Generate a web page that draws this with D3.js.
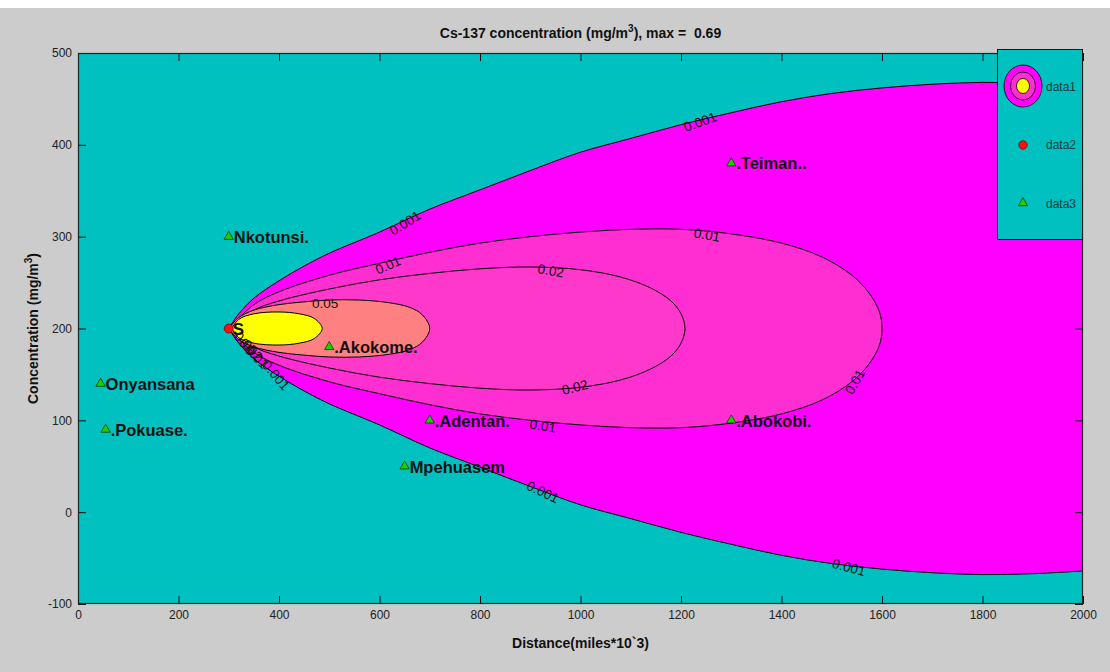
<!DOCTYPE html>
<html>
<head>
<meta charset="utf-8">
<script src="https://cdn.jsdelivr.net/npm/d3@7"></script>
<style>
  html, body { margin: 0; padding: 0; background: #cccccc; }
  svg { display: block; font-family: "Liberation Sans", Arial, sans-serif; }
  .keep-space { white-space: pre; }
</style>
</head>
<body>
<svg id="chart" width="1110" height="672"></svg>
<script>
// ---- axis ticks ----
const xTicks = [0, 200, 400, 600, 800, 1000, 1200, 1400, 1600, 1800, 2000];
const yTicks = [-100, 0, 100, 200, 300, 400, 500];

// ---- release point (plume centreline) ----
const sourceX = 300;
const sourceY = 200;

// ---- concentration contours: [distance, half-width of plume] ----
const levelNames = ["0.001", "0.01", "0.02", "0.05", "0.1"];
const levelColors = ["#ff00ff", "#ff2ed3", "#ff38cc", "#ff8080", "#ffff00"];
const halfWidth0001 = [[300, 0], [320, 16], [350, 33], [400, 52], [450, 68], [500, 82], [600, 105], [700, 130], [800, 151], [900, 172], [1000, 192], [1100, 207], [1200, 222], [1300, 235], [1400, 247], [1500, 256], [1600, 262], [1700, 266], [1800, 268], [1900, 267], [2000, 264]];
const halfWidth001 = [[300, 0], [350, 26], [400, 40], [500, 58], [600, 71], [700, 83], [800, 93], [900, 100], [1000, 105], [1100, 108], [1200, 108], [1300, 103], [1400, 93], [1480, 78], [1540, 58], [1575, 38], [1595, 18], [1600, 0]];
const halfWidth002 = [[300, 0], [350, 20], [400, 30], [500, 43], [600, 53], [700, 60], [800, 65], [900, 67], [1000, 64], [1080, 56], [1140, 44], [1180, 30], [1200, 16], [1208, 0]];
const halfWidth005 = [[300, 0], [320, 12], [350, 20], [400, 26], [450, 29], [500, 31], [560, 31], [620, 28], [660, 23], [685, 15], [700, 0]];
const halfWidth01 = [[306, 0], [320, 10], [350, 16], [400, 18], [440, 16], [470, 11], [486, 0]];

// ---- contour level labels: text, distance, y, angle ----
const contourLabelText = ["0.001", "0.01", "0.05", "0.02", "0.01", "0.001", "0.02", "0.01", "0.001", "0.01", "0.001", "0.001", "0.01", "0.02", "0.05"];
const contourLabelX = [651, 617, 492, 941, 1252, 1238, 989, 925, 925, 1546, 1534, 394, 356, 344, 334];
const contourLabelY = [315, 269, 227, 263, 302, 425, 136, 94, 22, 142, -60, 149, 169, 177, 184];
const contourLabelAngle = [-32, -24, 0, 10, 10, -20, -14, 9, 25, -60, 15, 50, 45, 45, 45];

// ---- receptor sites ----
const siteNames = ["Nkotunsi.", ".Teiman..", ".Akokome.", "Onyansana", ".Pokuase.", ".Adentan.", "Mpehuasem", ".Abokobi."];
const siteX = [300, 1300, 500, 45, 55, 700, 650, 1300];
const siteY = [300, 380, 180, 140, 90, 100, 50, 100];

// ---- legend ----
const legendLabels = ["data1", "data2", "data3"];

// =====================================================================
const svg = d3.select("#chart");
const W = 1110, H = 672;
const plot = { left: 78, right: 1083, top: 53, bottom: 604 };
const cyan = "#00c0c0";

svg.append("rect").attr("width", W).attr("height", H).attr("fill", "#cccccc");
svg.append("rect").attr("width", W).attr("height", 8).attr("fill", "#ffffff");

const x = d3.scaleLinear().domain([0, 2000]).range([plot.left, plot.right]);
const y = d3.scaleLinear().domain([-100, 500]).range([plot.bottom, plot.top]);

svg.append("defs").append("clipPath").attr("id", "plotClip")
  .append("rect")
  .attr("x", plot.left).attr("y", plot.top)
  .attr("width", plot.right - plot.left).attr("height", plot.bottom - plot.top);

// background (below lowest level)
svg.append("rect")
  .attr("x", plot.left).attr("y", plot.top)
  .attr("width", plot.right - plot.left).attr("height", plot.bottom - plot.top)
  .attr("fill", cyan);

const field = svg.append("g").attr("clip-path", "url(#plotClip)");
const line = d3.line().x(d => x(d[0])).y(d => y(d[1])).curve(d3.curveCatmullRom.alpha(0.5));

// outermost level is open at the right border
{
  const upper = halfWidth0001.map(([d, w]) => [d, sourceY + w]);
  const lower = halfWidth0001.map(([d, w]) => [d, sourceY - w]).reverse();
  const up = line(upper);
  const lo = line(lower);
  field.append("path")
    .attr("d", up + "L" + lo.slice(1) + "Z")
    .attr("fill", levelColors[0]);
  field.append("path").attr("d", up).attr("fill", "none").attr("stroke", "#000").attr("stroke-width", 1);
  field.append("path").attr("d", lo).attr("fill", "none").attr("stroke", "#000").attr("stroke-width", 1);
}

// closed inner levels
[halfWidth001, halfWidth002, halfWidth005, halfWidth01].forEach((prof, i) => {
  const upper = prof.map(([d, w]) => [d, sourceY + w]);
  const lower = prof.slice(0, -1).map(([d, w]) => [d, sourceY - w]).reverse();
  field.append("path")
    .attr("d", line(upper.concat(lower)) + "Z")
    .attr("fill", levelColors[i + 1])
    .attr("stroke", "#000")
    .attr("stroke-width", 1);
});

// contour labels
contourLabelText.forEach((t, i) => {
  field.append("text")
    .attr("transform", `translate(${x(contourLabelX[i])},${y(contourLabelY[i])}) rotate(${contourLabelAngle[i]})`)
    .attr("text-anchor", "middle")
    .attr("dy", "0.35em")
    .attr("font-size", 13.5)
    .attr("fill", "#111")
    .text(t);
});

// receptor sites
const tri = d3.symbol().type(d3.symbolTriangle).size(38);
siteNames.forEach((name, i) => {
  const px = x(siteX[i]), py = y(siteY[i]);
  svg.append("path")
    .attr("d", tri())
    .attr("transform", `translate(${px},${py})`)
    .attr("fill", "#22cc00")
    .attr("stroke", "#004400")
    .attr("stroke-width", 0.8);
  svg.append("text")
    .attr("x", px + 5).attr("y", py)
    .attr("dy", "0.38em")
    .attr("font-size", 16.5)
    .attr("font-weight", "bold")
    .attr("fill", "#111")
    .text(name);
});

// release point
svg.append("circle")
  .attr("cx", x(sourceX)).attr("cy", y(sourceY)).attr("r", 4.5)
  .attr("fill", "#ff1010").attr("stroke", "#660000").attr("stroke-width", 0.7);
svg.append("text")
  .attr("x", x(sourceX) + 4).attr("y", y(sourceY) + 1)
  .attr("dy", "0.35em")
  .attr("font-size", 17).attr("font-weight", "bold").attr("fill", "#111")
  .text("S");

// axes (ticks point inward)
const plain = d => String(d);
const xAxis = svg.append("g")
  .attr("transform", `translate(0,${plot.bottom})`)
  .call(d3.axisBottom(x).tickValues(xTicks).tickSize(-8).tickPadding(6).tickFormat(plain));
const xAxisTop = svg.append("g")
  .attr("transform", `translate(0,${plot.top})`)
  .call(d3.axisTop(x).tickValues(xTicks).tickSize(-8).tickFormat(""));
const yAxis = svg.append("g")
  .attr("transform", `translate(${plot.left},0)`)
  .call(d3.axisLeft(y).tickValues(yTicks).tickSize(-8).tickPadding(6).tickFormat(plain));
const yAxisRight = svg.append("g")
  .attr("transform", `translate(${plot.right},0)`)
  .call(d3.axisRight(y).tickValues(yTicks).tickSize(-8).tickFormat(""));

[xAxis, xAxisTop, yAxis, yAxisRight].forEach(g => {
  g.select(".domain").remove();
  g.selectAll(".tick line").attr("stroke", "#111").attr("stroke-width", 1);
  g.selectAll(".tick text")
    .attr("font-size", 12)
    .attr("font-family", "'Liberation Sans', Arial, sans-serif")
    .attr("fill", "#222");
});

// axes box
svg.append("rect")
  .attr("x", plot.left + 0.5).attr("y", plot.top + 0.5)
  .attr("width", plot.right - plot.left - 1).attr("height", plot.bottom - plot.top - 1)
  .attr("fill", "none").attr("stroke", "#222").attr("stroke-width", 1.2);

// legend
const lg = svg.append("g");
lg.append("rect")
  .attr("x", 997.5).attr("y", 49.5).attr("width", 85).attr("height", 190)
  .attr("fill", cyan).attr("stroke", "#111").attr("stroke-width", 1);
const iconX = 1023;
lg.append("ellipse").attr("cx", iconX).attr("cy", 86).attr("rx", 19).attr("ry", 21)
  .attr("fill", levelColors[0]).attr("stroke", "#000").attr("stroke-width", 0.8);
lg.append("ellipse").attr("cx", iconX).attr("cy", 86).attr("rx", 12.5).attr("ry", 14)
  .attr("fill", levelColors[1]).attr("stroke", "#000").attr("stroke-width", 0.8);
lg.append("ellipse").attr("cx", iconX).attr("cy", 86).attr("rx", 6.5).attr("ry", 7.5)
  .attr("fill", levelColors[4]).attr("stroke", "#000").attr("stroke-width", 0.8);
lg.append("circle").attr("cx", iconX).attr("cy", 145).attr("r", 4.2)
  .attr("fill", "#ff1010").attr("stroke", "#660000").attr("stroke-width", 0.7);
lg.append("path").attr("d", tri()).attr("transform", `translate(${iconX},${203})`)
  .attr("fill", "#22cc00").attr("stroke", "#004400").attr("stroke-width", 0.8);
legendLabels.forEach((t, i) => {
  lg.append("text")
    .attr("x", 1046).attr("y", [87, 145, 204][i])
    .attr("dy", "0.35em")
    .attr("font-size", 12).attr("fill", "#163a3a")
    .text(t);
});

// title
const title = svg.append("text")
  .attr("class", "keep-space")
  .attr("x", (plot.left + plot.right) / 2).attr("y", 38)
  .attr("text-anchor", "middle")
  .attr("font-size", 14).attr("font-weight", "bold").attr("fill", "#111");
title.append("tspan").text("Cs-137 concentration (mg/m");
title.append("tspan").attr("dy", -6).attr("font-size", 10).text("3");
title.append("tspan").attr("dy", 6).text("), max =  0.69");

// axis titles
svg.append("text")
  .attr("x", (plot.left + plot.right) / 2).attr("y", 648)
  .attr("text-anchor", "middle")
  .attr("font-size", 14).attr("font-weight", "bold").attr("fill", "#111")
  .text("Distance(miles*10`3)");

const ylab = svg.append("text")
  .attr("transform", `translate(38,${(plot.top + plot.bottom) / 2}) rotate(-90)`)
  .attr("text-anchor", "middle")
  .attr("font-size", 14).attr("font-weight", "bold").attr("fill", "#111");
ylab.append("tspan").text("Concentration (mg/m");
ylab.append("tspan").attr("dy", -6).attr("font-size", 10).text("3");
ylab.append("tspan").attr("dy", 6).text(")");
</script>
</body>
</html>
